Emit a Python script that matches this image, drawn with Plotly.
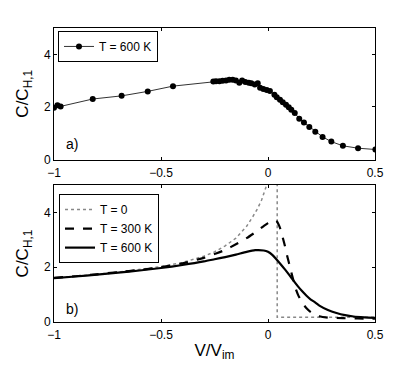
import plotly.graph_objects as go

# ---- data: panel a) (T = 600 K, markers) ----
a_x = [-1.0, -0.984, -0.969, -0.819, -0.684, -0.562, -0.444, -0.2555, -0.243, -0.227,
       -0.212, -0.196, -0.181, -0.165, -0.150, -0.134, -0.121, -0.106, -0.090, -0.078,
       -0.062, -0.048, -0.037, -0.022, -0.006, 0.009, 0.030, 0.041, 0.056, 0.069,
       0.084, 0.097, 0.109, 0.125, 0.146, 0.168, 0.193, 0.221, 0.255, 0.296,
       0.350, 0.421, 0.502]
a_y = [1.97, 2.06, 2.02, 2.30, 2.42, 2.59, 2.79, 2.965, 2.98, 2.98,
       2.99, 3.00, 3.03, 3.03, 3.00, 2.92, 3.00, 2.95, 2.92, 2.90,
       2.85, 2.90, 2.73, 2.68, 2.64, 2.60, 2.46, 2.37, 2.27, 2.18,
       2.08, 1.99, 1.89, 1.77, 1.55, 1.41, 1.24, 1.06, 0.86, 0.68,
       0.52, 0.43, 0.38]

# ---- data: panel b) ----
t0_x = [-1.0, -0.9, -0.8, -0.7, -0.6, -0.5, -0.4, -0.3, -0.25, -0.2, -0.15, -0.1,
        -0.07, -0.05, -0.03, -0.01, 0.0, 0.02, 0.035, 0.043, 0.043, 0.1, 0.2, 0.3, 0.4, 0.5]
t0_y = [1.61, 1.67, 1.74, 1.82, 1.91, 2.02, 2.17, 2.40, 2.56, 2.78, 3.06, 3.49,
        3.86, 4.12, 4.45, 4.85, 5.1, 5.6, 6.3, 7.0, 0.17, 0.17, 0.17, 0.17, 0.17, 0.17]

t300_x = [-1.0, -0.9, -0.8, -0.7, -0.6, -0.5, -0.4, -0.3, -0.25, -0.2, -0.15, -0.1,
          -0.06, -0.02, 0.0, 0.02, 0.03, 0.04, 0.05, 0.06, 0.07, 0.08, 0.09, 0.10,
          0.11, 0.12, 0.13, 0.14, 0.16, 0.18, 0.20, 0.24, 0.28, 0.35, 0.42, 0.5]
t300_y = [1.61, 1.67, 1.74, 1.82, 1.90, 2.00, 2.14, 2.34, 2.48, 2.63, 2.84, 3.06,
          3.27, 3.50, 3.61, 3.70, 3.72, 3.68, 3.55, 3.35, 3.05, 2.75, 2.40, 2.10,
          1.78, 1.48, 1.20, 1.00, 0.70, 0.50, 0.36, 0.21, 0.16, 0.14, 0.13, 0.12]

t600_x = [-1.0, -0.9, -0.8, -0.7, -0.6, -0.5, -0.4, -0.3, -0.25, -0.2, -0.15, -0.1,
          -0.06, -0.02, 0.0, 0.02, 0.04, 0.06, 0.08, 0.10, 0.12, 0.14, 0.16, 0.18,
          0.20, 0.22, 0.24, 0.28, 0.32, 0.36, 0.40, 0.45, 0.5]
t600_y = [1.60, 1.66, 1.73, 1.80, 1.88, 1.97, 2.08, 2.21, 2.29, 2.37, 2.46, 2.56,
          2.62, 2.61, 2.56, 2.45, 2.28, 2.10, 1.91, 1.71, 1.50, 1.30, 1.12, 0.96,
          0.82, 0.72, 0.60, 0.44, 0.33, 0.25, 0.20, 0.17, 0.15]

x_ticks = [-1, -0.5, 0, 0.5]
y_ticks = [0, 2, 4]

FONT = "Liberation Sans, Arial, Helvetica, sans-serif"

fig = go.Figure()

fig.add_trace(go.Scatter(x=a_x, y=a_y, mode="lines+markers", name="T = 600 K",
                         line=dict(color="#333333", width=1),
                         marker=dict(color="black", size=6),
                         xaxis="x", yaxis="y", legend="legend"))

fig.add_trace(go.Scatter(x=t0_x, y=t0_y, mode="lines", name="T = 0",
                         line=dict(color="#888888", width=1.5, dash="dot"),
                         xaxis="x2", yaxis="y2", legend="legend2"))
fig.add_trace(go.Scatter(x=t300_x, y=t300_y, mode="lines", name="T = 300 K",
                         line=dict(color="black", width=2.2, dash="dash", shape="spline", smoothing=0.6),
                         xaxis="x2", yaxis="y2", legend="legend2"))
fig.add_trace(go.Scatter(x=t600_x, y=t600_y, mode="lines", name="T = 600 K",
                         line=dict(color="black", width=2.2, shape="spline", smoothing=0.6),
                         xaxis="x2", yaxis="y2", legend="legend2"))

axis_common = dict(showline=True, linecolor="black", linewidth=1, mirror="ticks",
                   ticks="inside", ticklen=3, tickcolor="black", showgrid=False,
                   zeroline=False, tickfont=dict(size=12, color="black"),
                   automargin=False)

ytitle = dict(text="C/C<sub>H,1</sub>", font=dict(size=17, color="black"), standoff=10)

# page body has an 8px default margin, so the figure is shrunk and shifted accordingly
fig.update_layout(
    width=407, height=363,
    margin=dict(l=46, r=40, t=20, b=49),
    paper_bgcolor="white", plot_bgcolor="white",
    font=dict(family=FONT, color="black"),
    xaxis=dict(domain=[0, 1], range=[-1, 0.5], tickvals=x_ticks, anchor="y",
               ticklabelstandoff=2, **axis_common),
    yaxis=dict(domain=[0.5527, 1], range=[0, 5], tickvals=y_ticks, anchor="x",
               title=ytitle, **axis_common),
    xaxis2=dict(domain=[0, 1], range=[-1, 0.5], tickvals=x_ticks, anchor="y2",
                ticklabelstandoff=2,
                title=dict(text="V/V<sub>im</sub>", font=dict(size=17, color="black"), standoff=2),
                **axis_common),
    yaxis2=dict(domain=[0, 0.466], range=[0, 5], tickvals=y_ticks, anchor="x2",
                title=ytitle, **axis_common),
    legend=dict(x=0.0125, y=0.99, xanchor="left", yanchor="top",
                bgcolor="white", bordercolor="black", borderwidth=1,
                font=dict(size=12, color="black"), itemwidth=30),
    legend2=dict(x=0.0156, y=0.435, xanchor="left", yanchor="top",
                 bgcolor="white", bordercolor="black", borderwidth=1,
                 font=dict(size=12, color="black"), itemwidth=30, tracegroupgap=0),
    showlegend=True,
    annotations=[
        dict(text="a)", x=0.03, y=0.5527 + 0.02, xref="paper", yref="paper",
             xanchor="left", yanchor="bottom", showarrow=False, font=dict(size=14)),
        dict(text="b)", x=0.03, y=0.01, xref="paper", yref="paper",
             xanchor="left", yanchor="bottom", showarrow=False, font=dict(size=14)),
    ],
)

fig.write_html("out.html")
